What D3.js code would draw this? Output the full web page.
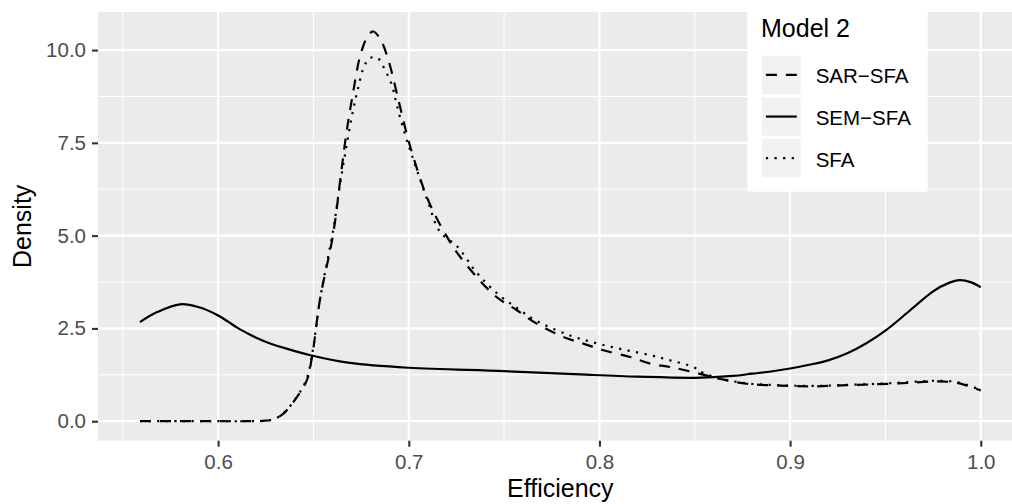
<!DOCTYPE html>
<html>
<head>
<meta charset="utf-8">
<script src="https://cdnjs.cloudflare.com/ajax/libs/d3/7.8.5/d3.min.js"></script>
<style>
body{margin:0;background:#fff}
svg{display:block}
text{font-family:"Liberation Sans",Arial,Helvetica,sans-serif}
</style>
</head>
<body>
<div id="chart"></div>
<script>
// legend order and the line style of every series
var seriesNames = ["SAR\u2212SFA", "SEM\u2212SFA", "SFA"]
var seriesDash = ["11,9", null, "2.2,6.4"]

// density curves
var sarX = [0.559, 0.58, 0.60, 0.615, 0.6236, 0.6288, 0.6341, 0.6413, 0.6465, 0.6493, 0.6535, 0.6602, 0.6643, 0.6671, 0.6706, 0.6748, 0.6788, 0.6814, 0.6853, 0.6893, 0.6946, 0.6998, 0.7063, 0.7098, 0.7143, 0.7191, 0.7252, 0.7357, 0.7462, 0.7567, 0.7671, 0.7811, 0.7916, 0.8021, 0.8161, 0.8266, 0.8371, 0.8493, 0.8633, 0.8773, 0.8947, 0.9122, 0.9297, 0.9472, 0.9612, 0.9751, 0.9856, 0.9927, 1.0]
var sarY = [0, 0, 0, 0, 0.01, 0.05, 0.2, 0.65, 1.1, 1.75, 3.3, 5.0, 6.6, 7.7, 8.8, 9.9, 10.4, 10.5, 10.27, 9.73, 8.65, 7.57, 6.49, 6.0, 5.5, 5.05, 4.55, 3.88, 3.34, 2.99, 2.63, 2.27, 2.09, 1.91, 1.73, 1.55, 1.46, 1.32, 1.14, 1.01, 0.96, 0.94, 0.97, 1.0, 1.03, 1.07, 1.05, 0.96, 0.83]

var semX = [0.559, 0.568, 0.58, 0.59, 0.60, 0.605, 0.61, 0.615, 0.62, 0.6255, 0.635, 0.649, 0.669, 0.70, 0.75, 0.79, 0.82, 0.85, 0.87, 0.88, 0.89, 0.90, 0.91, 0.92, 0.93, 0.94, 0.95, 0.963, 0.975, 0.983, 0.989, 0.995, 1.0]
var semY = [2.67, 2.94, 3.15, 3.07, 2.85, 2.69, 2.52, 2.38, 2.25, 2.13, 1.97, 1.77, 1.57, 1.44, 1.35, 1.26, 1.2, 1.17, 1.22, 1.28, 1.34, 1.42, 1.52, 1.64, 1.83, 2.1, 2.44, 2.99, 3.5, 3.72, 3.80, 3.74, 3.61]

var sfaX = [0.559, 0.58, 0.60, 0.615, 0.6236, 0.6288, 0.6341, 0.6413, 0.6465, 0.6493, 0.6535, 0.6605, 0.6636, 0.6671, 0.671, 0.6736, 0.6762, 0.6793, 0.6815, 0.6838, 0.6867, 0.6911, 0.6937, 0.6981, 0.7016, 0.7098, 0.7164, 0.7252, 0.7357, 0.7462, 0.7567, 0.7671, 0.7846, 0.7986, 0.8126, 0.8266, 0.8371, 0.8493, 0.8545, 0.8633, 0.8773, 0.8947, 0.9122, 0.9297, 0.9472, 0.9612, 0.9751, 0.9856, 0.9927, 1.0]
var sfaY = [0, 0, 0, 0, 0.01, 0.05, 0.2, 0.66, 1.15, 1.8, 3.3, 5.19, 6.27, 7.35, 8.43, 9.01, 9.51, 9.78, 9.8, 9.78, 9.55, 9.06, 8.52, 7.71, 7.17, 5.95, 5.1, 4.72, 4.0, 3.45, 3.05, 2.7, 2.31, 2.1, 1.93, 1.78, 1.64, 1.46, 1.3, 1.15, 1.02, 0.97, 0.95, 0.98, 1.01, 1.05, 1.09, 1.07, 0.98, 0.84]

// axis ticks
var xTicks = [0.6, 0.7, 0.8, 0.9, 1.0]
var xMinor = [0.55, 0.65, 0.75, 0.85, 0.95]
var yTicks = [0, 2.5, 5, 7.5, 10]
var yMinor = [1.25, 3.75, 6.25, 8.75]

var width = 1012, height = 504
var panel = {left: 98, top: 12, right: 1022.7, bottom: 440.7}

var svg = d3.select("#chart").append("svg")
  .attr("width", width)
  .attr("height", height)

//scales, padded 5% like ggplot does
var x = d3.scaleLinear()
  .domain([0.559 - 0.022, 1.0 + 0.022])
  .range([panel.left, panel.right])
var y = d3.scaleLinear()
  .domain([-0.525, 11.025])
  .range([panel.bottom, panel.top])

//grey panel
svg.append("rect")
  .attr("x", panel.left)
  .attr("y", panel.top)
  .attr("width", panel.right - panel.left)
  .attr("height", panel.bottom - panel.top)
  .style("fill", "#EBEBEB")

//grid lines, minor first
var grid = svg.append("g").attr("id", "grid")
grid.selectAll(".xminor").data(xMinor).enter().append("line")
  .attr("x1", d => x(d)).attr("x2", d => x(d))
  .attr("y1", panel.top).attr("y2", panel.bottom)
  .style("stroke", "#fff").style("stroke-width", 1.1)
grid.selectAll(".yminor").data(yMinor).enter().append("line")
  .attr("x1", panel.left).attr("x2", panel.right)
  .attr("y1", d => y(d)).attr("y2", d => y(d))
  .style("stroke", "#fff").style("stroke-width", 1.1)
grid.selectAll(".xmajor").data(xTicks).enter().append("line")
  .attr("x1", d => x(d)).attr("x2", d => x(d))
  .attr("y1", panel.top).attr("y2", panel.bottom)
  .style("stroke", "#fff").style("stroke-width", 2.2)
grid.selectAll(".ymajor").data(yTicks).enter().append("line")
  .attr("x1", panel.left).attr("x2", panel.right)
  .attr("y1", d => y(d)).attr("y2", d => y(d))
  .style("stroke", "#fff").style("stroke-width", 2.2)

//the three density lines
var series = [
  sarX.map((d, i) => [d, sarY[i]]),
  semX.map((d, i) => [d, semY[i]]),
  sfaX.map((d, i) => [d, sfaY[i]])
]
var line = d3.line()
  .x(d => x(d[0]))
  .y(d => y(d[1]))
  .curve(d3.curveCatmullRom.alpha(0.5))

svg.append("g").attr("id", "lines")
  .selectAll("path").data(series).enter().append("path")
  .attr("d", line)
  .style("fill", "none")
  .style("stroke", "#000")
  .style("stroke-width", 2.2)
  .style("stroke-dasharray", (d, i) => seriesDash[i])

//axes
var xAxis = svg.append("g")
  .attr("transform", `translate(0,${panel.bottom})`)
  .call(d3.axisBottom(x).tickValues(xTicks).tickFormat(d3.format(".1f")).tickSize(6).tickPadding(7.3))
var yAxis = svg.append("g")
  .attr("transform", `translate(${panel.left},0)`)
  .call(d3.axisLeft(y).tickValues(yTicks).tickFormat(d3.format(".1f")).tickSize(6).tickPadding(6))

;[xAxis, yAxis].forEach(function(a){
  a.select(".domain").remove()
  a.selectAll(".tick line").style("stroke", "#333").style("stroke-width", 2.1)
  a.selectAll(".tick text")
    .style("fill", "#4D4D4D")
    .style("font-size", "20.5px")
    .style("font-family", '"Liberation Sans",Arial,sans-serif')
})

//axis titles
svg.append("text")
  .text("Efficiency")
  .attr("x", (panel.left + panel.right) / 2)
  .attr("y", 496.7)
  .attr("text-anchor", "middle")
  .style("font-size", "25px")
svg.append("text")
  .text("Density")
  .attr("transform", `translate(30.5,${(panel.top + panel.bottom) / 2}) rotate(-90)`)
  .attr("text-anchor", "middle")
  .style("font-size", "25px")

//legend
var legend = svg.append("g").attr("id", "legend")
legend.append("rect")
  .attr("x", 747.3).attr("y", 12)
  .attr("width", 180.4).attr("height", 179.7)
  .style("fill", "#fff")
legend.append("text")
  .text("Model 2")
  .attr("x", 761).attr("y", 36.7)
  .style("font-size", "25px")

var keys = legend.selectAll(".key").data(seriesNames).enter().append("g")
  .attr("class", "key")
  .attr("transform", (d, i) => `translate(762,${55.7 + i * 41.65})`)
keys.append("rect")
  .attr("width", 38.7).attr("height", 38.4)
  .style("fill", "#F2F2F2")
keys.append("line")
  .attr("x1", 3.9).attr("x2", 34.8)
  .attr("y1", 19.2).attr("y2", 19.2)
  .style("stroke", "#000")
  .style("stroke-width", 2.2)
  .style("stroke-dasharray", (d, i) => seriesDash[i])
keys.append("text")
  .text(d => d)
  .attr("x", 53.7).attr("y", 27.7)
  .style("font-size", "20.5px")
</script>
</body>
</html>
